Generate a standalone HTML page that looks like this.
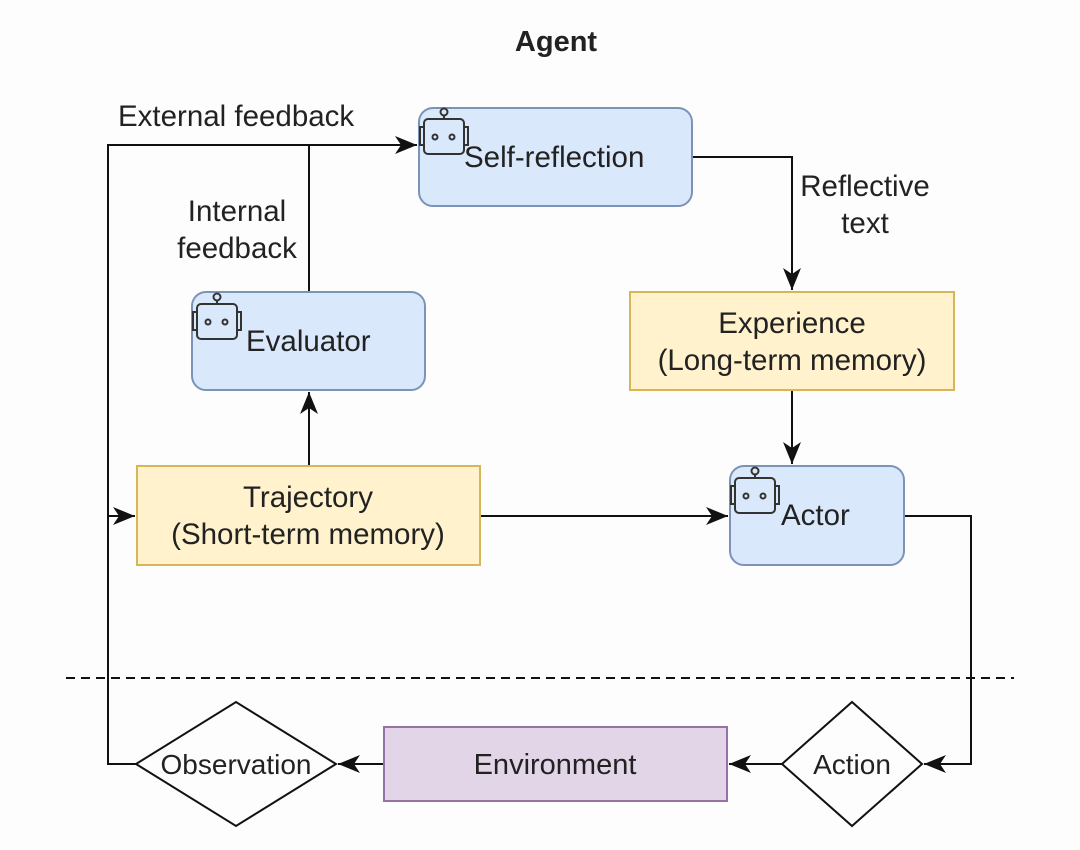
<!DOCTYPE html>
<html><head><meta charset="utf-8"><style>
html,body{margin:0;padding:0;background:#fdfdfd;}
svg{display:block;}
text{font-family:"Liberation Sans",Arial,sans-serif;fill:#222;}
</style></head><body>
<svg width="1080" height="850" viewBox="0 0 1080 850" xmlns="http://www.w3.org/2000/svg">
<defs>
<marker id="b" viewBox="0 0 22 18" refX="22" refY="9" markerWidth="22" markerHeight="18" markerUnits="userSpaceOnUse" orient="auto">
<path d="M0,0 L22,9 L0,18 L6,9 Z" fill="#111"/>
</marker>
<g id="robot" fill="none" stroke="#333" stroke-width="2">
<circle cx="25" cy="6" r="3.5"/>
<line x1="25" y1="9.5" x2="25" y2="13"/>
<rect x="5" y="13" width="40" height="35" rx="4"/>
<rect x="1" y="21" width="4" height="18"/>
<rect x="45" y="21" width="4" height="18"/>
<circle cx="16" cy="31" r="2.5"/>
<circle cx="33" cy="31" r="2.5"/>
</g>
</defs>

<text x="556" y="51" font-size="29" font-weight="bold" text-anchor="middle">Agent</text>

<line x1="66" y1="678" x2="1014" y2="678" stroke="#111" stroke-width="2" stroke-dasharray="9,6"/>

<g stroke="#111" stroke-width="2" fill="none">
<polyline points="136,764 108,764 108,145 417,145" marker-end="url(#b)"/>
<line x1="309" y1="292" x2="309" y2="145"/>
<line x1="108" y1="516" x2="135" y2="516" marker-end="url(#b)"/>
<line x1="309" y1="466" x2="309" y2="392" marker-end="url(#b)"/>
<polyline points="692,157 792,157 792,290" marker-end="url(#b)"/>
<line x1="792" y1="390" x2="792" y2="464" marker-end="url(#b)"/>
<line x1="480" y1="516" x2="728" y2="516" marker-end="url(#b)"/>
<polyline points="904,516 971,516 971,764 924,764" marker-end="url(#b)"/>
<line x1="782" y1="764" x2="729" y2="764" marker-end="url(#b)"/>
<line x1="384" y1="764" x2="338" y2="764" marker-end="url(#b)"/>
</g>

<rect x="419" y="108" width="273" height="98" rx="14" fill="#dae8fc" stroke="#7c93b8" stroke-width="2"/>
<use href="#robot" x="419" y="106"/>
<text x="464" y="167" font-size="29.5">Self-reflection</text>

<rect x="192" y="292" width="233" height="98" rx="14" fill="#dae8fc" stroke="#7c93b8" stroke-width="2"/>
<use href="#robot" x="192" y="291"/>
<text x="246" y="351" font-size="29.5">Evaluator</text>

<rect x="630" y="292" width="324" height="98" fill="#fff2cc" stroke="#d6b656" stroke-width="2"/>
<text x="792" y="333" font-size="29.5" text-anchor="middle">Experience</text>
<text x="792" y="370" font-size="29.5" text-anchor="middle">(Long-term memory)</text>

<rect x="137" y="466" width="343" height="99" fill="#fff2cc" stroke="#d6b656" stroke-width="2"/>
<text x="308" y="507" font-size="29.5" text-anchor="middle">Trajectory</text>
<text x="308" y="544" font-size="29.5" text-anchor="middle">(Short-term memory)</text>

<rect x="730" y="466" width="174" height="99" rx="14" fill="#dae8fc" stroke="#7c93b8" stroke-width="2"/>
<use href="#robot" x="730" y="465"/>
<text x="781" y="525" font-size="29.5">Actor</text>

<rect x="384" y="727" width="343" height="74" fill="#e1d5e7" stroke="#9673a6" stroke-width="2"/>
<text x="555" y="774" font-size="29" text-anchor="middle">Environment</text>

<polygon points="136,764 236,702 336,764 236,826" fill="#fdfdfd" stroke="#111" stroke-width="2"/>
<text x="236" y="774" font-size="28" text-anchor="middle" fill="#333">Observation</text>

<polygon points="782,764 852,702 922,764 852,826" fill="#fdfdfd" stroke="#111" stroke-width="2"/>
<text x="852" y="774" font-size="28" text-anchor="middle" fill="#333">Action</text>

<text x="118" y="126" font-size="29.5">External feedback</text>
<text x="237" y="221" font-size="29.5" text-anchor="middle">Internal</text>
<text x="237" y="258" font-size="29.5" text-anchor="middle">feedback</text>
<text x="865" y="196" font-size="29.5" text-anchor="middle">Reflective</text>
<text x="865" y="233" font-size="29.5" text-anchor="middle">text</text>
</svg>
</body></html>
